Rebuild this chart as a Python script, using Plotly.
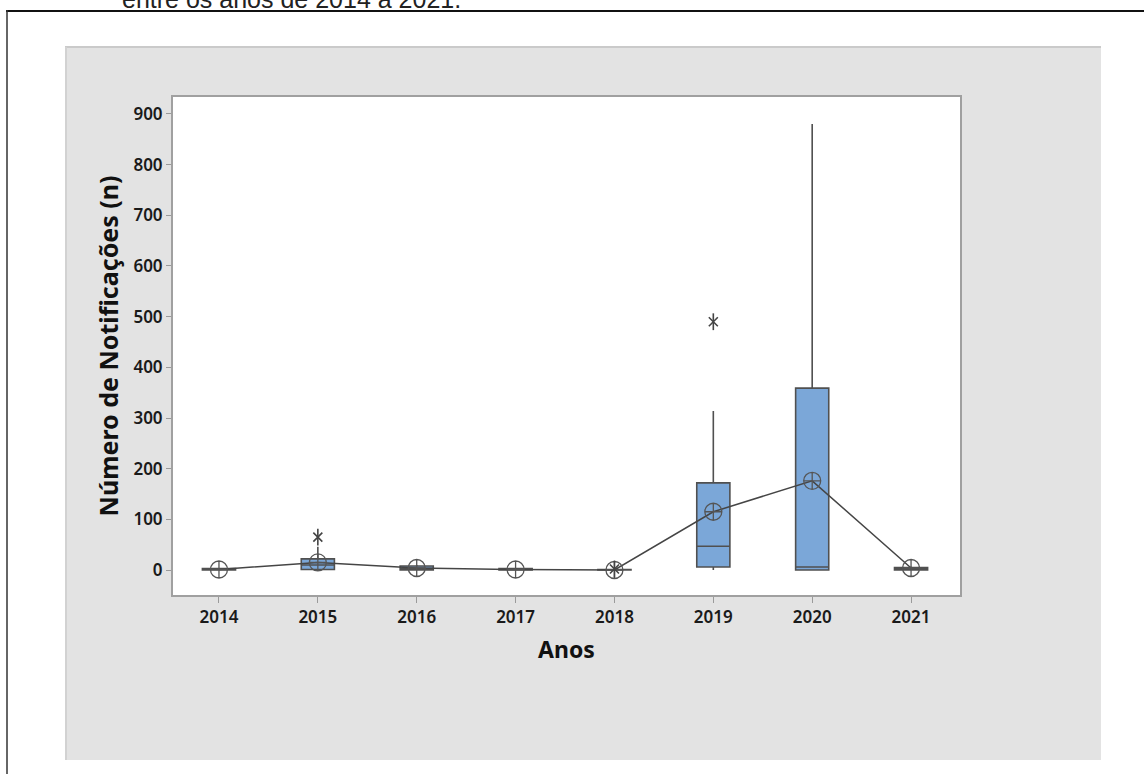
import plotly.graph_objects as go

# Annual notification counts: box summaries per year
anos = [2014, 2015, 2016, 2017, 2018, 2019, 2020, 2021]
q1 = [0, 1, 0, 0, 0, 6, 0, 0]
mediana = [1, 10, 3, 1, 0, 47, 6, 2]
q3 = [3, 22, 8, 3, 1, 172, 359, 5]
limite_inf = [0, 0, 0, 0, 0, 0, 0, 0]
limite_sup = [4, 46, 10, 4, 2, 314, 880, 7]
media = [1, 15, 4, 1, 0, 115, 176, 4]

# Outlying observations
outlier_anos = [2015, 2018, 2019]
outlier_vals = [65, 2, 490]

W, H = 1144, 774
L, R, T, B = 173, 960, 97, 595  # plot area in pixels


def px_x(p):
    return (p - L) / (R - L)


def px_y(p):
    return (B - p) / (B - T)


fig = go.Figure()

fig.add_trace(go.Box(
    x=anos, q1=q1, median=mediana, q3=q3,
    lowerfence=limite_inf, upperfence=limite_sup,
    width=0.335, whiskerwidth=0, boxpoints=False,
    fillcolor="#7ba7d8", line=dict(color="#505050", width=1.6),
    showlegend=False, hoverinfo="skip",
))

fig.add_trace(go.Scatter(
    x=anos, y=media, mode="lines+markers",
    line=dict(color="#454545", width=1.5),
    marker=dict(symbol="circle-cross-open", size=17, color="#555555",
                line=dict(width=1.3, color="#555555")),
    showlegend=False, hoverinfo="skip",
))

# six-armed asterisk for outliers: vertical stroke plus two diagonals
for simbolo, tam in (("line-ns-open", 12), ("x-thin-open", 9)):
    fig.add_trace(go.Scatter(
        x=outlier_anos, y=outlier_vals, mode="markers",
        marker=dict(symbol=simbolo, size=tam, color="#444444",
                    line=dict(width=1.6, color="#444444")),
        showlegend=False, hoverinfo="skip",
    ))

tick_font = dict(family="Noto Sans", size=17, color="#1a1a1a", weight=600)

fig.update_layout(
    width=W, height=H,
    margin=dict(l=L, r=W - R, t=T, b=H - B, autoexpand=False),
    paper_bgcolor="white", plot_bgcolor="white",
    xaxis=dict(
        range=[2013.535, 2021.495], tickvals=anos, ticktext=[str(a) for a in anos],
        ticks="outside", ticklen=6, tickcolor="#9a9a9a", tickwidth=1,
        showgrid=False, zeroline=False, showline=True, mirror=True,
        linecolor="#a0a0a0", linewidth=2, tickfont=tick_font,
        title=dict(text="Anos", standoff=14,
                   font=dict(family="Noto Sans", size=23, color="#111111", weight=700)),
    ),
    yaxis=dict(
        range=[-49.3, 933.5], tickvals=list(range(0, 1000, 100)),
        ticks="outside", ticklen=5, tickcolor="#9a9a9a", tickwidth=1,
        showgrid=False, zeroline=False, showline=True, mirror=True,
        linecolor="#a0a0a0", linewidth=2, tickfont=tick_font,
        title=dict(text="Número de Notificações (n)", standoff=8,
                   font=dict(family="Noto Sans", size=25, color="#111111", weight=700)),
    ),
    shapes=[
        # gray panel behind the chart
        dict(type="rect", xref="paper", yref="paper", layer="below",
             x0=px_x(65), x1=px_x(1101), y0=px_y(760), y1=px_y(46),
             fillcolor="#e3e3e3", line=dict(width=0)),
        dict(type="line", xref="paper", yref="paper", layer="below",
             x0=px_x(65), x1=px_x(1101), y0=px_y(47), y1=px_y(47),
             line=dict(color="#cacaca", width=2)),
        dict(type="line", xref="paper", yref="paper", layer="below",
             x0=px_x(66), x1=px_x(66), y0=px_y(47), y1=px_y(760),
             line=dict(color="#d2d2d2", width=2)),
        # white data region
        dict(type="rect", xref="paper", yref="paper", layer="below",
             x0=0, x1=1, y0=0, y1=1,
             fillcolor="white", line=dict(width=0)),
        # outer frame
        dict(type="line", xref="paper", yref="paper",
             x0=px_x(6), x1=px_x(1144), y0=px_y(11), y1=px_y(11),
             line=dict(color="#111111", width=2)),
        dict(type="line", xref="paper", yref="paper",
             x0=px_x(7), x1=px_x(7), y0=px_y(10), y1=px_y(774),
             line=dict(color="#333333", width=1.5)),
    ],
    annotations=[
        dict(text="entre os anos de 2014 a 2021.", xref="paper", yref="paper",
             x=px_x(120), y=px_y(15), xanchor="left", yanchor="bottom",
             showarrow=False,
             font=dict(family="Liberation Sans", size=25, color="#222222")),
    ],
)

fig.write_html("out.html")
